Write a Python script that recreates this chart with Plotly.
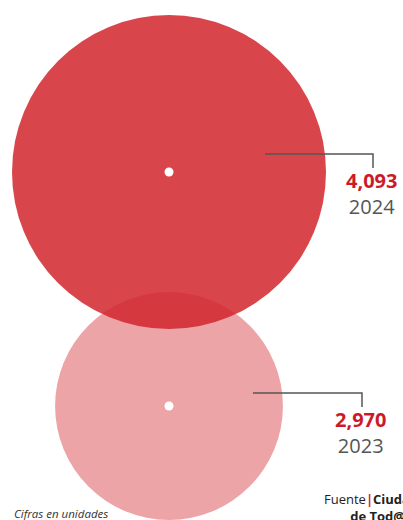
import plotly.graph_objects as go

years = ["2024", "2023"]
values = [4093, 2970]
value_labels = ["4,093", "2,970"]

# layout (pixel space)
W, H = 403, 520
px_per_unit = 157 / 4093          # circle radius proportional to value
centers_x = [169, 169]
centers_y = [172, 406]
fill_opacity = [0.85, 0.42]
lead_start_x = [265, 253]
lead_end_x = [373, 362]
lead_dy = [-18, -13]
lead_drop = 14
RED = "rgb(209,38,45)"
TXT_RED = "#cc1a2a"
GRAY = "#555555"

fig = go.Figure()

# draw smaller (2023) first, larger on top
for i in [1, 0]:
    r = values[i] * px_per_unit
    fig.add_trace(go.Scatter(
        x=[centers_x[i]], y=[centers_y[i]], mode="markers",
        marker=dict(size=2 * r, color=RED, opacity=fill_opacity[i],
                    line=dict(width=0)),
        hoverinfo="skip", showlegend=False))

# white center dots
fig.add_trace(go.Scatter(
    x=centers_x, y=centers_y, mode="markers",
    marker=dict(size=9, color="white", line=dict(width=0)),
    hoverinfo="skip", showlegend=False))

# leader lines and labels
for i in range(2):
    ly = centers_y[i] + lead_dy[i]
    fig.add_trace(go.Scatter(
        x=[lead_start_x[i], lead_end_x[i], lead_end_x[i]],
        y=[ly, ly, ly + lead_drop], mode="lines",
        line=dict(color=GRAY, width=1.5),
        hoverinfo="skip", showlegend=False))
    fig.add_annotation(
        x=lead_end_x[i] - 2, y=ly + 39, xref="x", yref="y",
        text=("<b><span style='color:%s'>%s</span></b><br>%s"
              % (TXT_RED, value_labels[i], years[i])),
        showarrow=False, align="center",
        font=dict(family="Open Sans", size=20, color=GRAY),
        xanchor="center", yanchor="middle")

# footer texts
fig.add_annotation(x=12, y=513, xref="x", yref="y", text="<i>Cifras en unidades</i>",
                   showarrow=False, xanchor="left", yanchor="middle",
                   font=dict(family="Open Sans", size=11.5, color="#333333"))
fig.add_annotation(x=322, y=507, xref="x", yref="y",
                   text="Fuente<b><span style='color:#d0202e'>|</span>Ciudad</b>"
                        "<br><b>de Tod@s&nbsp;&nbsp;</b>",
                   showarrow=False, xanchor="left", yanchor="middle", align="right",
                   font=dict(family="Open Sans", size=13, color="#222222"))

fig.update_layout(
    width=W, height=H, margin=dict(l=0, r=0, t=0, b=0),
    paper_bgcolor="white", plot_bgcolor="white",
    xaxis=dict(range=[0, W], visible=False, fixedrange=True),
    yaxis=dict(range=[H, 0], visible=False, fixedrange=True),
)

fig.write_html("out.html", config={"displayModeBar": False},
               post_script="document.body.style.margin='0px';"
                           "document.body.style.overflow='hidden';")
